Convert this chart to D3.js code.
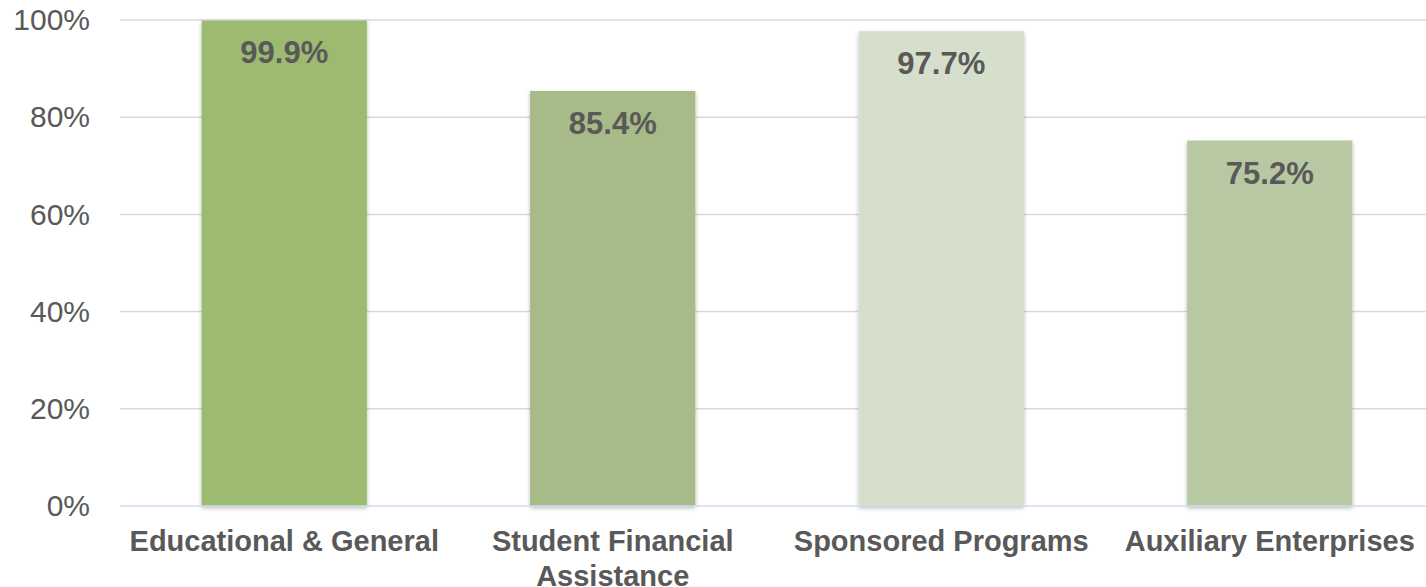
<!DOCTYPE html>
<html>
<head>
<meta charset="utf-8">
<script src="https://cdn.jsdelivr.net/npm/d3@7/dist/d3.min.js"></script>
<style>
  html, body { margin: 0; padding: 0; background: #fff; }
  svg { display: block; font-family: "Liberation Sans", Arial, sans-serif; }
</style>
</head>
<body>
<script>
'use strict';

const categories = ['Educational & General', 'Student Financial Assistance', 'Sponsored Programs', 'Auxiliary Enterprises'];
const values = [99.9, 85.4, 97.7, 75.2];
const barColors = ['#9dba71', '#a6bb87', '#d6dfcb', '#b8c8a3'];
const yTicks = [0, 20, 40, 60, 80, 100];

const width = 1426;
const height = 587;
const margin = { top: 20, right: -8, bottom: 81, left: 120 };

const svg = d3.select('body').append('svg')
  .attr('width', width)
  .attr('height', height);

const defs = svg.append('defs');
const shadow = defs.append('filter')
  .attr('id', 'shadow')
  .attr('x', '-10%').attr('y', '-10%')
  .attr('width', '120%').attr('height', '120%');
shadow.append('feDropShadow')
  .attr('dx', 0).attr('dy', 2)
  .attr('stdDeviation', 2)
  .attr('flood-color', '#000')
  .attr('flood-opacity', 0.28);

const x = d3.scaleBand()
  .domain(categories)
  .range([margin.left, width - margin.right])
  .paddingInner(0.497)
  .paddingOuter(0.2485);

const y = d3.scaleLinear()
  .domain([0, 100])
  .range([height - margin.bottom, margin.top]);

// gridlines
svg.append('g')
  .selectAll('line')
  .data(yTicks.filter((d) => d > 0))
  .enter().append('line')
  .attr('x1', margin.left)
  .attr('x2', width)
  .attr('y1', (d) => y(d))
  .attr('y2', (d) => y(d))
  .attr('stroke', '#d9d9d9')
  .attr('stroke-width', 1.5);

// y axis labels
const yAxis = d3.axisLeft(y)
  .tickValues(yTicks)
  .tickFormat((d) => d + '%')
  .tickSize(0)
  .tickPadding(30);

svg.append('g')
  .attr('transform', `translate(${margin.left},0)`)
  .call(yAxis)
  .call((g) => g.select('.domain').remove())
  .call((g) => g.selectAll('text')
    .attr('fill', '#595959')
    .attr('font-size', 30)
    .attr('font-family', '"Liberation Sans", Arial, sans-serif'));

// bars
svg.append('g')
  .selectAll('rect')
  .data(values)
  .enter().append('rect')
  .attr('x', (d, i) => x(categories[i]))
  .attr('y', (d) => y(d))
  .attr('width', x.bandwidth())
  .attr('height', (d) => y(0) - y(d))
  .attr('fill', (d, i) => barColors[i])
  .attr('filter', 'url(#shadow)');

// baseline
svg.append('line')
  .attr('x1', margin.left)
  .attr('x2', width)
  .attr('y1', y(0))
  .attr('y2', y(0))
  .attr('stroke', '#cddcee')
  .attr('stroke-width', 1.5);

// value labels
svg.append('g')
  .selectAll('text')
  .data(values)
  .enter().append('text')
  .attr('x', (d, i) => x(categories[i]) + x.bandwidth() / 2)
  .attr('y', (d) => y(d) + 43)
  .attr('text-anchor', 'middle')
  .attr('font-size', 31)
  .attr('font-weight', 'bold')
  .attr('fill', '#595959')
  .text((d) => d.toFixed(1) + '%');

// category labels, wrapped
const xAxis = d3.axisBottom(x).tickSize(0).tickPadding(0);
const xg = svg.append('g')
  .attr('transform', `translate(0,${y(0)})`)
  .call(xAxis)
  .call((g) => g.select('.domain').remove());

xg.selectAll('text')
  .attr('fill', '#595959')
  .attr('font-size', 29)
  .attr('font-weight', 'bold')
  .attr('font-family', '"Liberation Sans", Arial, sans-serif')
  .attr('dy', null)
  .attr('y', 45)
  .each(function (d) { wrap(d3.select(this), x.step() - 10); });

function wrap(text, maxWidth) {
  const words = text.text().split(/\s+/);
  text.text(null);
  let line = [];
  let lineNo = 0;
  let tspan = text.append('tspan').attr('x', 0).attr('dy', 0);
  words.forEach((w) => {
    line.push(w);
    tspan.text(line.join(' '));
    if (tspan.node().getComputedTextLength() > maxWidth && line.length > 1) {
      line.pop();
      tspan.text(line.join(' '));
      line = [w];
      lineNo += 1;
      tspan = text.append('tspan').attr('x', 0).attr('dy', 35).text(w);
    }
  });
}
</script>
</body>
</html>
